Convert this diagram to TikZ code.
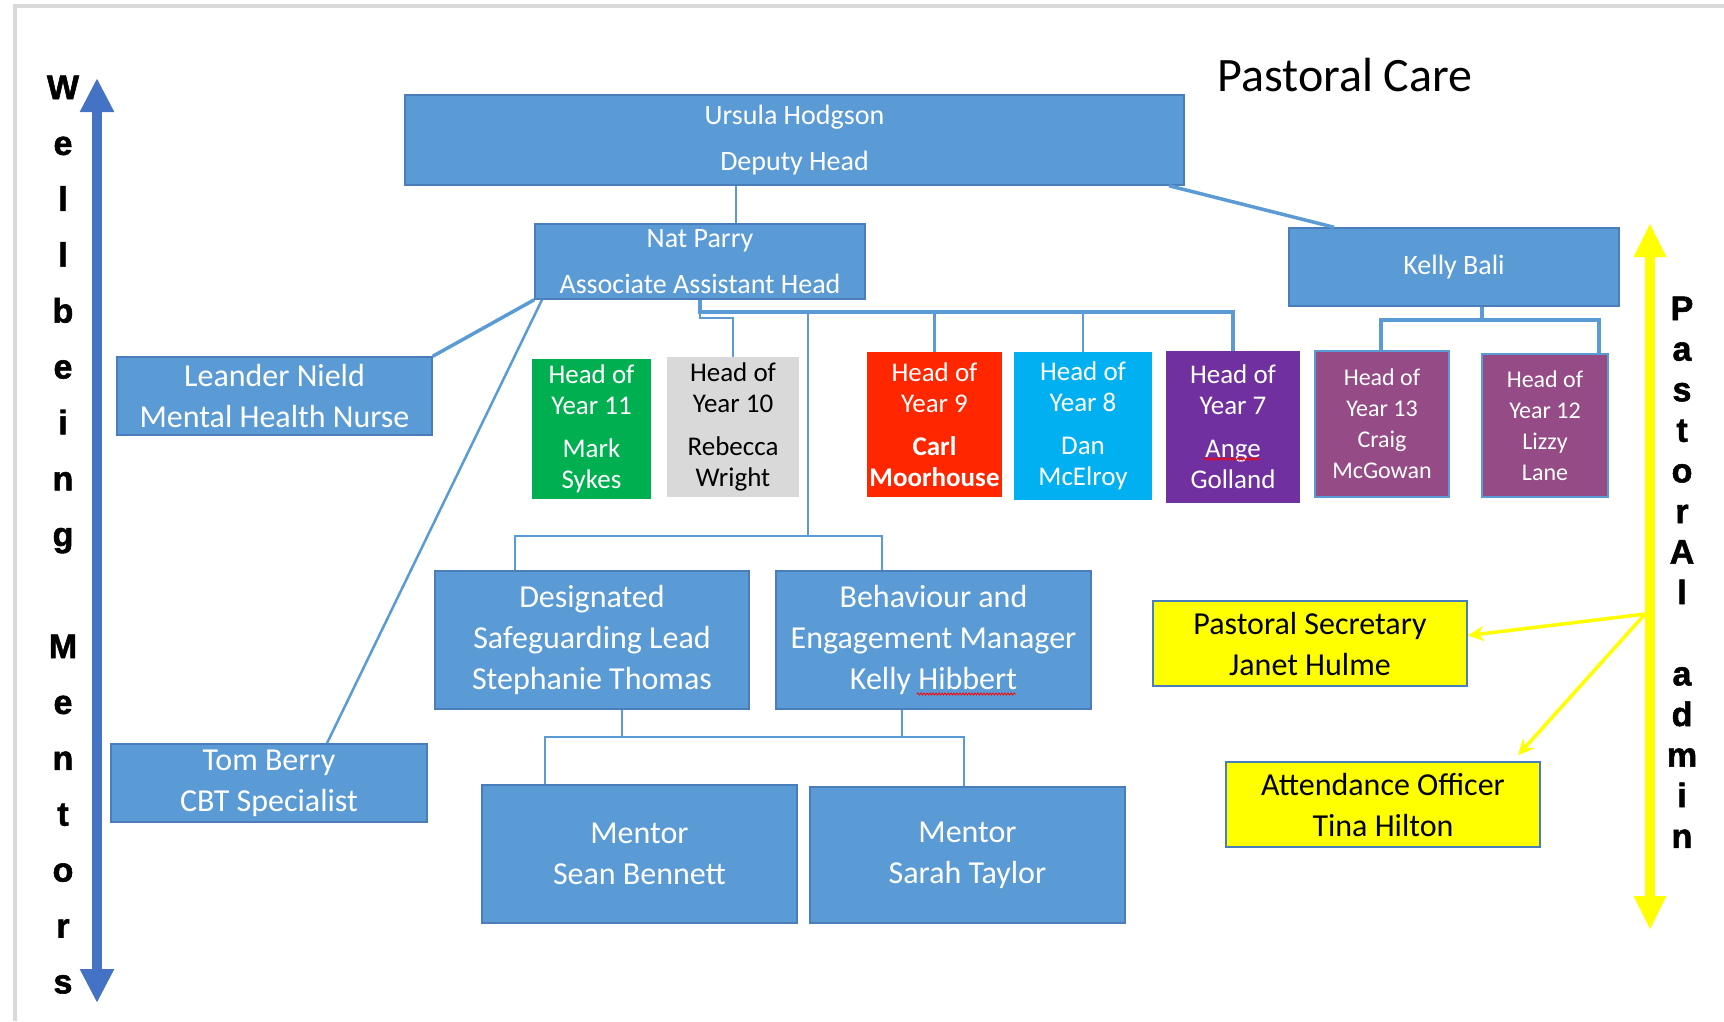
\documentclass[tikz,border=0pt]{standalone}
\usepackage{fontspec}
\setmainfont{Carlito}
\newfontfamily\lettersfont[BoldFeatures={FakeBold=1.6}]{Liberation Sans}
\usetikzlibrary{arrows.meta,decorations.pathmorphing}
\definecolor{boxblue}{HTML}{5B9BD5}
\definecolor{edgeblue}{HTML}{4A7EBB}
\definecolor{arrowblue}{HTML}{4472C4}
\definecolor{hoygreen}{HTML}{00B050}
\definecolor{hoygray}{HTML}{D9D9D9}
\definecolor{hoyred}{HTML}{FF2600}
\definecolor{hoycyan}{HTML}{00B0F0}
\definecolor{hoypurple}{HTML}{7030A0}
\definecolor{hoymauve}{HTML}{954B86}
\definecolor{adminyellow}{HTML}{FFFF00}
\definecolor{framegray}{HTML}{D9D9D9}

\begin{document}
\begin{tikzpicture}[x=1pt,y=-1pt,
   staff/.style={draw=edgeblue,line width=1.5pt,fill=boxblue,text=white,align=center,inner sep=0pt},
   lead/.style={staff,font=\fontsize{28}{46}\selectfont},
   big/.style={staff,font=\fontsize{32}{41}\selectfont},
   hoy/.style={align=center,inner sep=0pt,text=white,font=\fontsize{27}{31}\selectfont},
   sixth/.style={hoy,draw=boxblue,line width=1.5pt,fill=hoymauve,font=\fontsize{24}{31}\selectfont},
   admin/.style={draw=edgeblue,line width=1.5pt,fill=adminyellow,align=center,inner sep=0pt,font=\fontsize{32}{41}\selectfont},
   link/.style={draw=boxblue,line width=2.5pt},
   bus/.style={link,line width=4pt},
   vletter/.style={anchor=base,font=\lettersfont\bfseries\fontsize{34}{34}\selectfont},
   yellowtip/.style={draw=adminyellow,line width=3.5pt,-{Stealth[length=16pt,width=15pt]}},
   squiggle/.style={draw=red,line width=0.8pt,decorate,decoration={snake,amplitude=1pt,segment length=3pt}}]
   \useasboundingbox (0,0) rectangle (1724,1021);
   \draw[framegray,line width=4pt] (15,1021) -- (15,6) -- (1724,6);

   \node[anchor=base,font=\fontsize{48}{48}\selectfont] (title) at (1345,91) {Pastoral Care};

   % senior staff
   \node[lead,minimum width=779,minimum height=90] (ursula) at (794.5,140) {Ursula Hodgson\\Deputy Head};
   \node[lead,minimum width=330,minimum height=75] (nat) at (700,261.5) {Nat Parry\\Associate Assistant Head};
   \node[lead,minimum width=330,minimum height=78] (kelly) at (1454,267) {Kelly Bali};
   \node[big,minimum width=315,minimum height=78] (leander) at (274.5,396) {Leander Nield\\Mental Health Nurse};
   \node[big,minimum width=316,minimum height=78] (tom) at (269,783) {Tom Berry\\CBT Specialist};

   % heads of year
   \node[hoy,fill=hoygreen,minimum width=119,minimum height=140] (y_11) at (591.5,429) {Head of\\Year 11\\[12pt]Mark\\Sykes};
   \node[hoy,fill=hoygray,text=black,minimum width=132,minimum height=140] (y_10) at (733,427) {Head of\\Year 10\\[12pt]Rebecca\\Wright};
   \node[hoy,fill=hoyred,minimum width=135,minimum height=145] (y_9) at (934.5,424.5) {Head of\\Year 9\\[12pt]\textbf{Carl}\\\textbf{Moorhouse}};
   \node[hoy,fill=hoycyan,minimum width=138,minimum height=148] (y_8) at (1083,426) {Head of\\Year 8\\[12pt]Dan\\McElroy};
   \node[hoy,fill=hoypurple,minimum width=134,minimum height=152] (y_7) at (1233,427) {Head of\\Year 7\\[12pt]Ange\\Golland};
   \node[sixth,minimum width=134,minimum height=146] (y_13) at (1382,424) {Head of\\Year 13\\Craig\\McGowan};
   \node[sixth,minimum width=126,minimum height=143] (y_12) at (1545,425.5) {Head of\\Year 12\\Lizzy\\Lane};

   % safeguarding, behaviour and mentors
   \node[big,minimum width=314,minimum height=138] (dsl) at (592,640) {Designated\\Safeguarding Lead\\Stephanie Thomas};
   \node[big,minimum width=315,minimum height=138] (beh) at (933.5,640) {Behaviour and\\Engagement Manager\\Kelly Hibbert};
   \node[big,minimum width=315,minimum height=138] (sean) at (639.5,854) {Mentor\\Sean Bennett};
   \node[big,minimum width=315,minimum height=136] (sarah) at (967.5,855) {Mentor\\Sarah Taylor};

   % pastoral admin
   \node[admin,minimum width=314,minimum height=85] (sec) at (1310,643.5) {Pastoral Secretary\\Janet Hulme};
   \node[admin,minimum width=314,minimum height=85] (att) at (1383,804.5) {Attendance Officer\\Tina Hilton};

   \draw[squiggle] (1204,459) -- (1260,459);
   \draw[squiggle] (917,694) -- (1016,694);

   % connectors
   \draw[link] (ursula.south -| 736,0) -- (nat.north -| 736,0);
   \draw[link,line width=3.5pt] (ursula.south -| 1169,0) -- (kelly.north -| 1334,0);
   \draw[link,line width=3.5pt] (nat.south west) -- (leander.north east);
   \draw[link] (nat.south west -| 542,0) -- (tom.north -| 327,0);
   \draw[bus] (nat.south) |- (1233,312) -- (y_7.north);
   \draw[link] (y_9.north |- 0,312) -- (y_9.north);
   \draw[link] (y_8.north |- 0,312) -- (y_8.north);
   \draw[link] (nat.south) -- (700,318) -| (y_10.north);
   \draw[link] (808,312) -- (808,536);
   \draw[link] (dsl.north -| 515,0) |- (882,536) -- (beh.north -| 882,0);
   \draw[link] (dsl.south -| 622,0) -- (622,737);
   \draw[link] (beh.south -| 902,0) -- (902,737);
   \draw[link] (sean.north -| 545,0) |- (964,737) -- (sarah.north -| 964,0);
   \draw[bus] (kelly.south -| 1482,0) -- (1482,320);
   \draw[bus] (y_13.north -| 1381,0) |- (1599,320) -- (y_12.north -| 1599,0);

   % side arrows
   \coordinate (wb_top) at (97,78);
   \coordinate (wb_bottom) at (97,1003);
   \draw[arrowblue,line width=10pt,{Triangle[length=34pt,width=32pt]}-{Triangle[length=34pt,width=32pt]}] (wb_top) -- (wb_bottom);
   \coordinate (pa_top) at (1650,223);
   \coordinate (pa_bottom) at (1650,930);
   \draw[adminyellow,line width=10pt,{Triangle[length=34pt,width=30pt]}-{Triangle[length=34pt,width=30pt]}] (pa_top) -- (pa_bottom);
   \coordinate (split) at (1645,614);
   \draw[yellowtip] (split) -- ([yshift=8pt]sec.east);
   \draw[yellowtip] (split) -- ([yshift=6pt]att.north -| 1518,0);

   \foreach \ch [count=\i from 0] in {W,e,l,l,b,e,i,n,g}
      \node[vletter] (well_\i) at (63,99+55.9*\i) {\ch};
   \foreach \ch [count=\i from 10] in {M,e,n,t,o,r,s}
      \node[vletter] (ment_\i) at (63,99+55.9*\i) {\ch};
   \foreach \ch [count=\i from 0] in {P,a,s,t,o,r,A,l}
      \node[vletter] (past_\i) at (1682,320+40.6*\i) {\ch};
   \foreach \ch [count=\i from 9] in {a,d,m,i,n}
      \node[vletter] (adm_\i) at (1682,320+40.6*\i) {\ch};
\end{tikzpicture}
\end{document}
